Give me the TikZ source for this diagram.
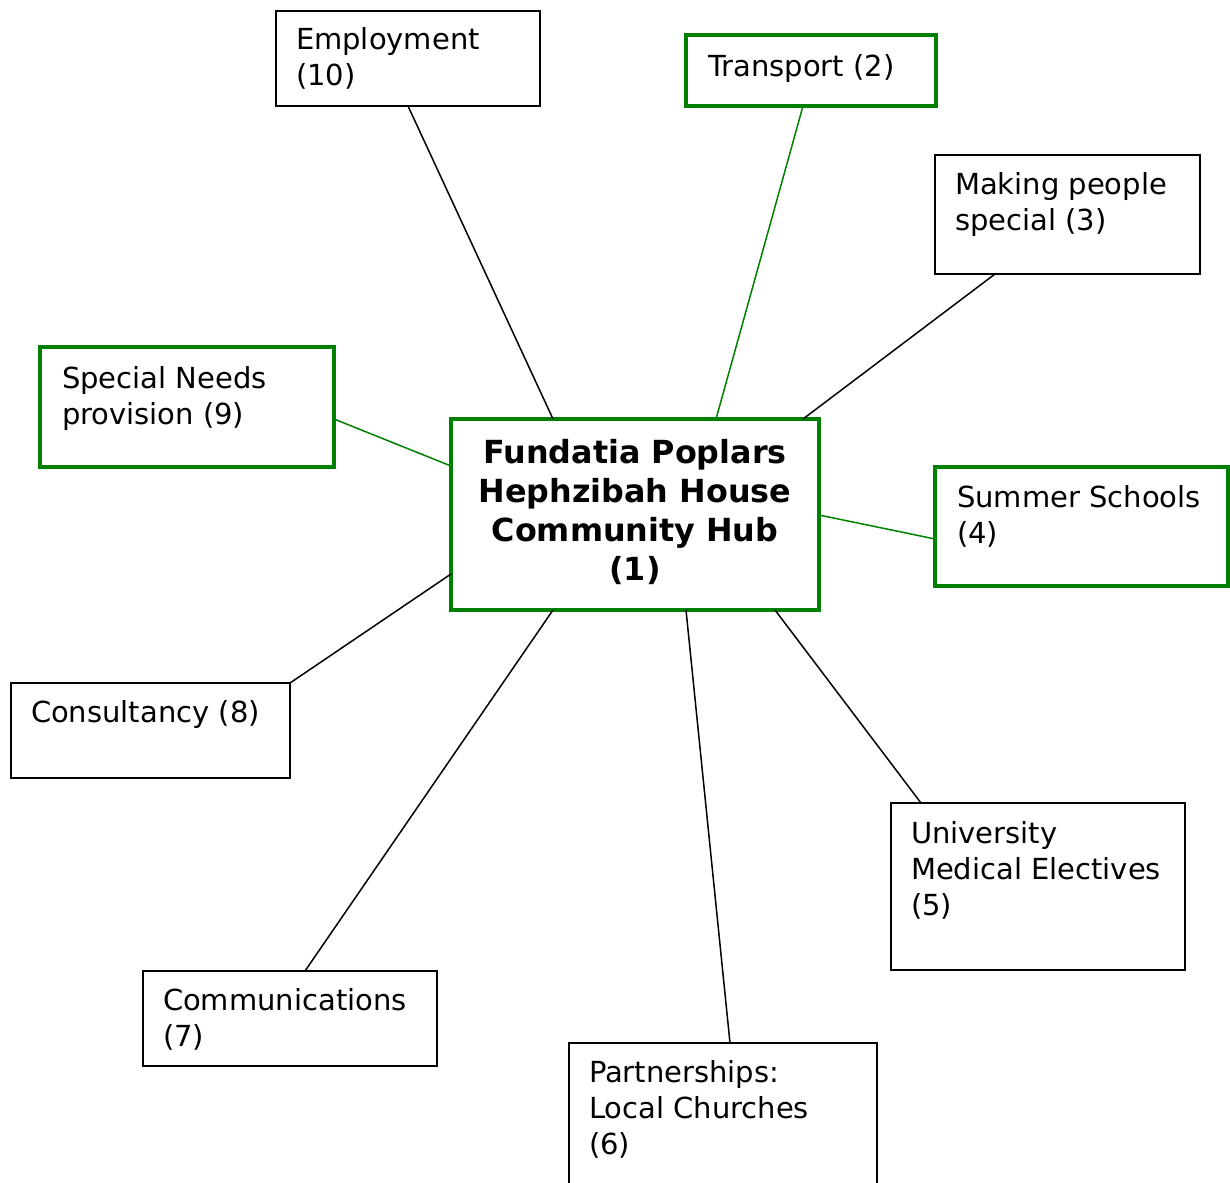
\documentclass[tikz,border=0pt]{standalone}
\usepackage{fontspec}
\setmainfont{DejaVu Sans}
\definecolor{hubgreen}{RGB}{0,128,0}
\newcommand\bxt[4]{\parbox[t][#1][t]{#2}{\raggedright\rule{0pt}{#3}#4}}
\begin{document}
\begin{tikzpicture}[x=1pt,y=-1pt,
  plainbox/.style={draw=black,line width=1.8pt,inner xsep=20pt,inner ysep=0pt,outer sep=0pt,anchor=north west,fill=white,font=\fontsize{29}{36}\selectfont},
  greenbox/.style={draw=hubgreen,line width=3.8pt,inner xsep=22pt,inner ysep=0pt,outer sep=0pt,anchor=north west,fill=white,font=\fontsize{29}{36}\selectfont},
  hubbox/.style={draw=hubgreen,line width=3.8pt,inner sep=0pt,outer sep=0pt,anchor=north west,fill=white,font=\fontsize{31.8}{39}\selectfont\bfseries},
  blackline/.style={draw=black,line width=1.5pt},
  greenline/.style={draw=hubgreen,line width=1.5pt}]
\useasboundingbox (0,0) rectangle (1230,1182);
\fill[white] (0,0) rectangle (1230,1182);
% nodes
\node[plainbox] (emp) at (276,11) {\bxt{95pt}{224pt}{39pt}{Employment\\(10)}};
\node[greenbox] (trans) at (686,35) {\bxt{71pt}{206pt}{42pt}{Transport (2)}};
\node[plainbox] (make) at (935,155) {\bxt{119pt}{225pt}{40pt}{Making people\\special (3)}};
\node[greenbox] (spec) at (40,347) {\bxt{120pt}{250pt}{41pt}{Special Needs\\provision (9)}};
\node[hubbox] (hub) at (451,419) {\parbox[t][191pt][t]{368pt}{\centering\rule{0pt}{44pt}Fundatia Poplars\\Hephzibah House\\Community Hub\\(1)}};
\node[greenbox] (summ) at (935,467) {\bxt{119pt}{249pt}{40pt}{Summer Schools\\(4)}};
\node[plainbox] (cons) at (11,683) {\bxt{95pt}{239pt}{39pt}{Consultancy (8)}};
\node[plainbox] (univ) at (891,803) {\bxt{167pt}{254pt}{40pt}{University\\Medical Electives\\(5)}};
\node[plainbox] (comm) at (143,971) {\bxt{95pt}{254pt}{39pt}{Communications\\(7)}};
\node[plainbox] (part) at (569,1043) {\bxt{160pt}{268pt}{39pt}{Partnerships:\\Local Churches\\(6)}};
% connectors
\draw[blackline] ([xshift=132pt]emp.south west) -- ([xshift=102pt]hub.north west);
\draw[greenline] ([xshift=117pt]trans.south west) -- ([xshift=265pt]hub.north west);
\draw[blackline] ([xshift=60pt]make.south west) -- ([xshift=352pt]hub.north west);
\draw[greenline] ([yshift=-72pt]spec.north east) -- ([yshift=-47pt]hub.north west);
\draw[greenline] ([yshift=-72pt]summ.north west) -- ([yshift=-96pt]hub.north east);
\draw[blackline] (cons.north east) -- ([yshift=-155pt]hub.north west);
\draw[blackline] ([xshift=162pt]comm.north west) -- ([xshift=102pt]hub.south west);
\draw[blackline] ([xshift=161pt]part.north west) -- ([xshift=235pt]hub.south west);
\draw[blackline] ([xshift=30pt]univ.north west) -- ([xshift=324pt]hub.south west);
\end{tikzpicture}
\end{document}
